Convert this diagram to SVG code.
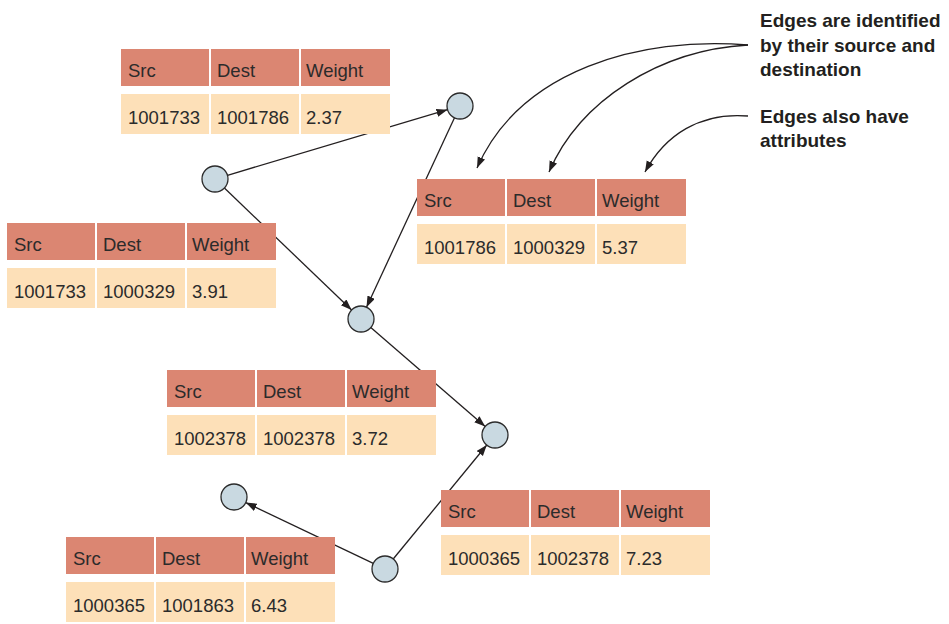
<svg xmlns="http://www.w3.org/2000/svg" width="949" height="624" viewBox="0 0 949 624">
  <style>
    .hd { fill: #db8672; }
    .dt { fill: #fde0b8; }
    .tx { font-family: "Liberation Sans", Arial, sans-serif; font-size: 18.5px; fill: #2b2b2b; }
    .node { fill: #c9d9e1; stroke: #2b2b2b; stroke-width: 1.3; }
    .edge { fill: none; stroke: #231f20; stroke-width: 1.3; marker-end: url(#arrow); }
    .note { font-family: "Liberation Sans", Arial, sans-serif; font-size: 19px; font-weight: bold; fill: #231f20; }
  </style>
  <defs>
    <marker id="arrow" markerUnits="userSpaceOnUse" markerWidth="12" markerHeight="10" refX="11" refY="4" orient="auto">
      <path d="M0,0 L11,4 L0,8 z" fill="#231f20"/>
    </marker>
    <!-- one edge record: header row + value row -->
    <g id="tbl-frame">
      <rect class="hd" x="0" y="0" width="88" height="37"/>
      <rect class="hd" x="90" y="0" width="88" height="37"/>
      <rect class="hd" x="180" y="0" width="89" height="37"/>
      <rect class="dt" x="0" y="45" width="88" height="40"/>
      <rect class="dt" x="90" y="45" width="88" height="40"/>
      <rect class="dt" x="180" y="45" width="89" height="40"/>
      <text class="tx" x="7" y="28">Src</text>
      <text class="tx" x="96" y="28">Dest</text>
      <text class="tx" x="185" y="28">Weight</text>
    </g>
  </defs>

  <rect width="949" height="624" fill="#ffffff"/>

  <!-- graph edges -->
  <g id="edges">
    <line class="edge" x1="227.5" y1="175.3" x2="447.5" y2="109.7"/>
    <line class="edge" x1="224.4" y1="188" x2="351.6" y2="310"/>
    <line class="edge" x1="454.5" y1="117.8" x2="366.5" y2="307.2"/>
    <line class="edge" x1="370.8" y1="327.5" x2="485.2" y2="426.5"/>
    <line class="edge" x1="393.2" y1="559" x2="486.8" y2="445"/>
    <line class="edge" x1="373.3" y1="563.4" x2="245.7" y2="502.6"/>
  </g>

  <!-- vertices -->
  <g id="node-1001786"><circle class="node" cx="460" cy="106" r="13"/></g>
  <g id="node-1001733"><circle class="node" cx="215" cy="179" r="13"/></g>
  <g id="node-1000329"><circle class="node" cx="361" cy="319" r="13"/></g>
  <g id="node-1002378"><circle class="node" cx="495" cy="435" r="13"/></g>
  <g id="node-1001863"><circle class="node" cx="234" cy="497" r="13"/></g>
  <g id="node-1000365"><circle class="node" cx="385" cy="569" r="13"/></g>

  <!-- edge records -->
  <g id="rec-1001733-1001786" transform="translate(121,49)">
    <use href="#tbl-frame"/>
    <text class="tx" x="7" y="75">1001733</text>
    <text class="tx" x="96" y="75">1001786</text>
    <text class="tx" x="185" y="75">2.37</text>
  </g>
  <g id="rec-1001786-1000329" transform="translate(417,179)">
    <use href="#tbl-frame"/>
    <text class="tx" x="7" y="75">1001786</text>
    <text class="tx" x="96" y="75">1000329</text>
    <text class="tx" x="185" y="75">5.37</text>
  </g>
  <g id="rec-1001733-1000329" transform="translate(7,223)">
    <use href="#tbl-frame"/>
    <text class="tx" x="7" y="75">1001733</text>
    <text class="tx" x="96" y="75">1000329</text>
    <text class="tx" x="185" y="75">3.91</text>
  </g>
  <g id="rec-1002378-1002378" transform="translate(167,370)">
    <use href="#tbl-frame"/>
    <text class="tx" x="7" y="75">1002378</text>
    <text class="tx" x="96" y="75">1002378</text>
    <text class="tx" x="185" y="75">3.72</text>
  </g>
  <g id="rec-1000365-1002378" transform="translate(441,490)">
    <use href="#tbl-frame"/>
    <text class="tx" x="7" y="75">1000365</text>
    <text class="tx" x="96" y="75">1002378</text>
    <text class="tx" x="185" y="75">7.23</text>
  </g>
  <g id="rec-1000365-1001863" transform="translate(66,537)">
    <use href="#tbl-frame"/>
    <text class="tx" x="7" y="75">1000365</text>
    <text class="tx" x="96" y="75">1001863</text>
    <text class="tx" x="185" y="75">6.43</text>
  </g>

  <!-- callouts -->
  <g id="callouts">
    <path class="edge" d="M748,45 C640,36 520,70 477,168"/>
    <path class="edge" d="M748,45 C660,50 580,100 549,172"/>
    <path class="edge" d="M748,116 C700,112 665,135 645,172"/>
    <text class="note" x="760" y="27">Edges are identified</text>
    <text class="note" x="760" y="52">by their source and</text>
    <text class="note" x="760" y="76">destination</text>
    <text class="note" x="760" y="123">Edges also have</text>
    <text class="note" x="760" y="147">attributes</text>
  </g>
</svg>
